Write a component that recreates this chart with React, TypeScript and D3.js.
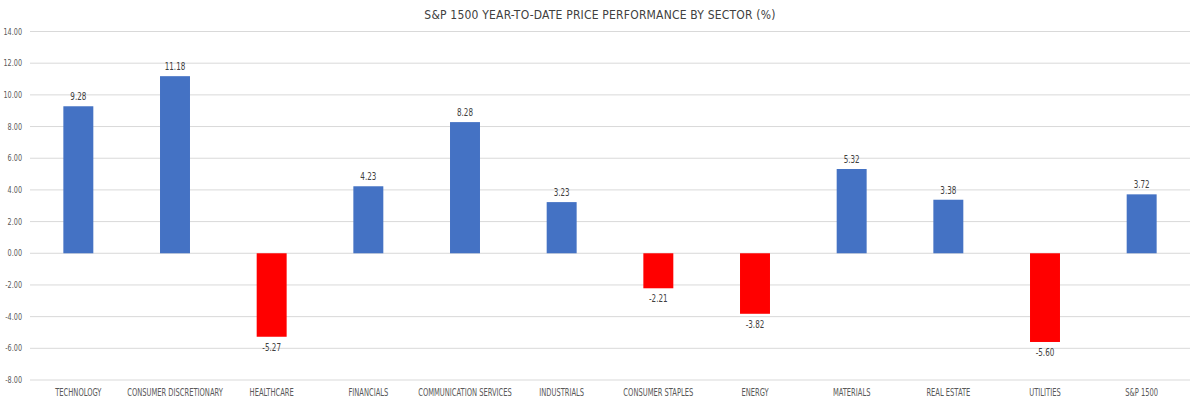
import * as d3 from "d3";

const sectors = [
  "TECHNOLOGY",
  "CONSUMER DISCRETIONARY",
  "HEALTHCARE",
  "FINANCIALS",
  "COMMUNICATION SERVICES",
  "INDUSTRIALS",
  "CONSUMER STAPLES",
  "ENERGY",
  "MATERIALS",
  "REAL ESTATE",
  "UTILITIES",
  "S&P 1500",
];
const ytd = [9.28, 11.18, -5.27, 4.23, 8.28, 3.23, -2.21, -3.82, 5.32, 3.38, -5.6, 3.72];
const yTicks = [14, 12, 10, 8, 6, 4, 2, 0, -2, -4, -6, -8];

const title = "S&P 1500 YEAR-TO-DATE PRICE PERFORMANCE BY SECTOR (%)";
const font = "'DejaVu Sans', sans-serif";

export default function App() {
  const width = 1200;
  const height = 405;
  const marginLeft = 30;
  const marginRight = 10;
  const marginTop = 31.5;
  const marginBottom = 25;

  const x = d3
    .scaleBand<string>()
    .domain(sectors)
    .range([marginLeft, width - marginRight])
    .paddingInner(0.69)
    .paddingOuter(0.345);

  const y = d3
    .scaleLinear()
    .domain([-8, 14])
    .range([height - marginBottom, marginTop]);

  const cx = (s: string) => (x(s) ?? 0) + x.bandwidth() / 2;

  return (
    <svg
      width={width}
      height={height}
      style={{ position: "absolute", left: 0, top: 0, background: "#fff", fontStretch: "condensed" }}
      fontFamily={font}
    >
      <text x={width / 2} y={19} textAnchor="middle" fontSize={12} fill="#404040" letterSpacing={0.2}>
        {title}
      </text>
      {/* grid + y ticks */}
      <g>
        {yTicks.map((t) => (
          <g key={t}>
            <line
              x1={marginLeft}
              x2={width - marginRight}
              y1={y(t)}
              y2={y(t)}
              stroke="#d9d9d9"
              strokeWidth={1}
            />
            <text
              transform={`translate(22,${y(t) + 3}) scale(0.8,1)`}
              textAnchor="end"
              fontSize={9}
              fill="#595959"
            >
              {t.toFixed(2)}
            </text>
          </g>
        ))}
      </g>
      {/* bars */}
      <g>
        {sectors.map((s, i) => {
          const v = ytd[i];
          const y0 = y(0);
          const y1 = y(v);
          return (
            <g key={s}>
              <rect
                x={x(s)}
                y={Math.min(y0, y1)}
                width={x.bandwidth()}
                height={Math.abs(y1 - y0)}
                fill={v >= 0 ? "#4472c4" : "#ff0000"}
              />
              <text
                transform={`translate(${cx(s)},${v >= 0 ? y1 - 6 : y1 + 14}) scale(0.8,1)`}
                textAnchor="middle"
                fontSize={10}
                fill="#404040"
              >
                {v.toFixed(2)}
              </text>
            </g>
          );
        })}
      </g>
      {/* category labels */}
      <g>
        {sectors.map((s) => (
          <text
            key={s}
            transform={`translate(${cx(s)},396) scale(0.75,1)`}
            textAnchor="middle"
            fontSize={10}
            fill="#595959"
          >
            {s}
          </text>
        ))}
      </g>
    </svg>
  );
}
